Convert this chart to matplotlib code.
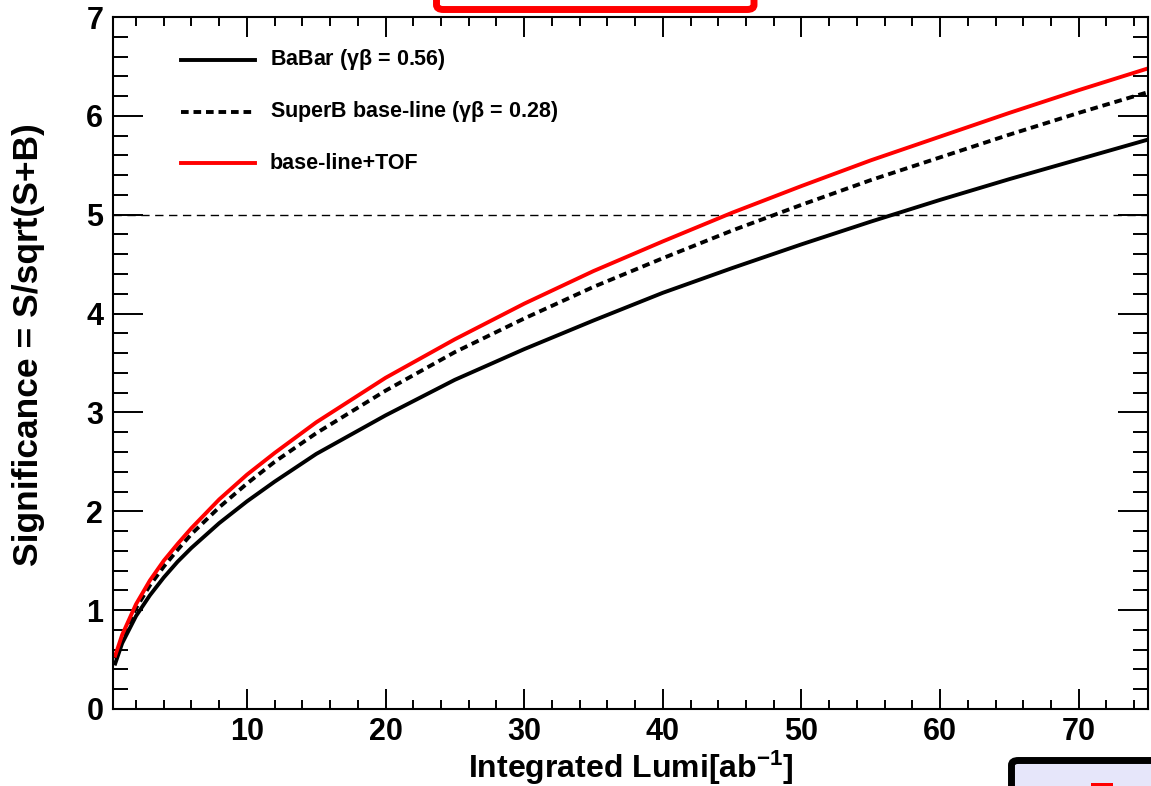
import matplotlib
matplotlib.use("Agg")
import matplotlib.pyplot as plt
from matplotlib.patches import FancyBboxPatch, Rectangle

plt.rcParams['font.family'] = ['Liberation Sans', 'DejaVu Sans']
plt.rcParams['font.weight'] = 'bold'
plt.rcParams['mathtext.fontset'] = 'custom'
plt.rcParams['mathtext.rm'] = 'Liberation Sans:bold'
plt.rcParams['mathtext.bf'] = 'Liberation Sans:bold'
plt.rcParams['mathtext.it'] = 'Liberation Sans'
plt.rcParams['mathtext.default'] = 'rm'
plt.rcParams['lines.scale_dashes'] = False

# integrated luminosity points (ab^-1) where the curves were read
lumi = [0.5, 1, 2, 3, 4, 5, 6, 8, 10, 12, 15, 20, 25, 30, 35, 40, 45, 50, 55, 60, 65, 70, 75]

# significance
babar = [0.46, 0.665, 0.94, 1.15, 1.33, 1.49, 1.63, 1.88, 2.10, 2.30, 2.58, 2.97, 3.33, 3.64,
         3.93, 4.21, 4.46, 4.70, 4.93, 5.15, 5.36, 5.56, 5.76]
superb = [0.51, 0.72, 1.02, 1.25, 1.44, 1.61, 1.77, 2.04, 2.28, 2.50, 2.79, 3.22, 3.61, 3.95,
          4.27, 4.56, 4.84, 5.10, 5.35, 5.58, 5.81, 6.03, 6.24]
tof = [0.54, 0.75, 1.06, 1.30, 1.50, 1.67, 1.83, 2.12, 2.37, 2.59, 2.90, 3.35, 3.74, 4.10,
       4.43, 4.73, 5.02, 5.29, 5.55, 5.79, 6.03, 6.26, 6.48]

labels = ['BaBar ($\\mathit{γβ}$ = 0.56)', 'SuperB base-line ($\\mathit{γβ}$ = 0.28)', 'base-line+TOF']

W, H = 1151, 786
fig = plt.figure(figsize=(W / 100, H / 100), dpi=100)
ax = fig.add_axes([113 / W, 1 - 709 / H, (1148 - 113) / W, (709 - 17) / H])

lw = 2.8
ax.axhline(5, color='black', lw=1.0, dashes=(6, 4))
ax.plot(lumi, babar, color='black', lw=lw)
ax.plot(lumi, superb, color='black', lw=lw, dashes=(5.5, 3.5))
ax.plot(lumi, tof, color='#ff0000', lw=lw)

ax.set_xlim(0.34, 75)
ax.set_ylim(0, 7)
ax.set_xticks([10, 20, 30, 40, 50, 60, 70])
ax.set_xticks(range(2, 76, 2), minor=True)
ax.set_yticks(range(0, 8))
ax.set_yticks([i * 0.2 for i in range(36)], minor=True)
ax.tick_params(axis='both', which='both', direction='in', top=True, right=True, width=1.4,
               labelsize=22, colors='black')
ax.tick_params(axis='x', which='major', length=14.4, pad=6)
ax.tick_params(axis='x', which='minor', length=6.5)
ax.tick_params(axis='y', which='major', length=21.6, pad=7)
ax.tick_params(axis='y', which='minor', length=10.8)
for s in ax.spines.values():
    s.set_linewidth(1.5)

ax.set_xlabel('Integrated Lumi[ab$^{-1}$]', fontsize=23, fontweight='bold')
ax.xaxis.set_label_coords(0.5, -0.058)
ax.set_ylabel('Significance = S/sqrt(S+B)', fontsize=25.5, fontweight='bold')
ax.yaxis.set_label_coords(-0.066, 0.527)

# legend drawn by hand, ROOT style
styles = [dict(color='black'), dict(color='black', dashes=(5.5, 3.5)), dict(color='#ff0000')]
rows = [0.938, 0.863, 0.789]
for lab, st, yy in zip(labels, styles, rows):
    ax.plot([0.0657, 0.1372], [yy, yy], transform=ax.transAxes, lw=lw, **st)
    ax.text(0.1517, yy, lab, transform=ax.transAxes, fontsize=15.5, va='center', ha='left')

# bits of neighbouring panels that got cropped in
tr = fig.transFigure
fig.patches.append(FancyBboxPatch((436.5 / W, 1 - 9.5 / H), (754 - 436.5) / W, 0.08,
                                  boxstyle='round,pad=0,rounding_size=0.006', transform=tr,
                                  facecolor='white', edgecolor='#ff0000', lw=5.0, clip_on=False))
fig.patches.append(FancyBboxPatch((1011.5 / W, -0.05), 0.2, 0.05 + (786 - 760.5) / H,
                                  boxstyle='round,pad=0,rounding_size=0.006', transform=tr,
                                  facecolor='#e6e6fa', edgecolor='black', lw=5.0, clip_on=False))
fig.patches.append(Rectangle((1091 / W, 0), 22 / W, 3 / H, transform=tr,
                             facecolor='#ff0000', edgecolor='none'))

fig.savefig('out.png', dpi=100)
